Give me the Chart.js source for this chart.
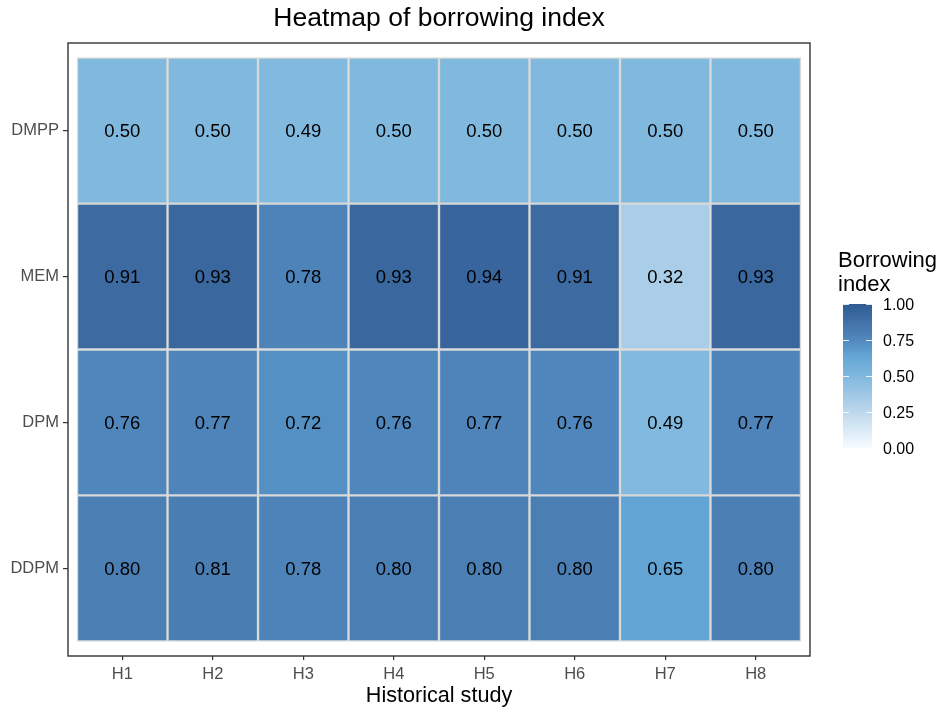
<!DOCTYPE html>
<html>
<head>
<meta charset="utf-8">
<script src="https://cdn.jsdelivr.net/npm/chart.js@4.4.1/dist/chart.umd.min.js"></script>
<style>
  html, body { margin: 0; padding: 0; background: #ffffff; }
  #c { display: block; }
</style>
</head>
<body>
<canvas id="c" width="944" height="711"></canvas>
<script>
// ---- data ----
const xCats = ['H1', 'H2', 'H3', 'H4', 'H5', 'H6', 'H7', 'H8'];
const yCats = ['DDPM', 'DPM', 'MEM', 'DMPP']; // bottom to top
const vDDPM = [0.80, 0.81, 0.78, 0.80, 0.80, 0.80, 0.65, 0.80];
const vDPM  = [0.76, 0.77, 0.72, 0.76, 0.77, 0.76, 0.49, 0.77];
const vMEM  = [0.91, 0.93, 0.78, 0.93, 0.94, 0.91, 0.32, 0.93];
const vDMPP = [0.50, 0.50, 0.49, 0.50, 0.50, 0.50, 0.50, 0.50];
const rowValues = [vDDPM, vDPM, vMEM, vDMPP];
const legendTicks = [0, 0.25, 0.5, 0.75, 1];
const legendTitle = ['Borrowing', 'index'];

const FONT = "'Liberation Sans', Arial, Helvetica, sans-serif";

// colour scale stops
const stops = [
  [0.00, [247, 251, 255]],
  [0.25, [188, 215, 236]],
  [0.50, [128, 184, 222]],
  [0.65, [98, 164, 211]],
  [0.75, [80, 136, 189]],
  [0.85, [70, 118, 171]],
  [1.00, [47, 90, 147]]
];
function colorFor(v) {
  v = Math.max(0, Math.min(1, v));
  for (let i = 1; i < stops.length; i++) {
    if (v <= stops[i][0]) {
      const [a, ca] = stops[i - 1], [b, cb] = stops[i];
      const t = (v - a) / (b - a);
      const c = ca.map((x, k) => Math.round(x + (cb[k] - x) * t));
      return `rgb(${c[0]},${c[1]},${c[2]})`;
    }
  }
  const c = stops[stops.length - 1][1];
  return `rgb(${c[0]},${c[1]},${c[2]})`;
}

const datasets = yCats.map((name, r) => ({
  label: name,
  data: xCats.map((c, i) => ({ x: i + 0.5, y: 1 })),
  values: rowValues[r],
  backgroundColor: rowValues[r].map(colorFor),
  borderColor: '#d9d9d9',
  borderWidth: 1.5,
  borderSkipped: false,
  barPercentage: 1,
  categoryPercentage: 1
}));

const panelPlugin = {
  id: 'panel',
  afterDatasetsDraw(chart) {
    const ctx = chart.ctx;
    // cell labels
    ctx.save();
    ctx.fillStyle = '#000';
    ctx.font = `18.5px ${FONT}`;
    ctx.textAlign = 'center';
    ctx.textBaseline = 'middle';
    chart.data.datasets.forEach((ds, di) => {
      const meta = chart.getDatasetMeta(di);
      meta.data.forEach((el, j) => {
        ctx.fillText(ds.values[j].toFixed(2), el.x, (el.y + el.base) / 2 + 1);
      });
    });
    ctx.restore();
    // panel border
    const a = chart.chartArea;
    ctx.save();
    ctx.strokeStyle = '#333333';
    ctx.lineWidth = 1.4;
    ctx.strokeRect(a.left, a.top, a.right - a.left, a.bottom - a.top);
    ctx.restore();
  },
  afterDraw(chart) {
    const ctx = chart.ctx;
    ctx.save();
    // legend title
    ctx.fillStyle = '#000';
    ctx.font = `22px ${FONT}`;
    ctx.textAlign = 'left';
    ctx.textBaseline = 'middle';
    ctx.fillText(legendTitle[0], 838, 261);
    ctx.fillText(legendTitle[1], 838, 285);
    // colour bar
    const bx = 843, bw = 29, top = 304, bottom = 448;
    const h = bottom - top;
    for (let p = 0; p < h; p++) {
      const v = 1 - (p + 0.5) / h;
      ctx.fillStyle = colorFor(v);
      ctx.fillRect(bx, top + p, bw, 1.02);
    }
    // ticks + labels
    ctx.font = `16px ${FONT}`;
    legendTicks.forEach(t => {
      const y = Math.round(bottom - t * h) + 0.5;
      ctx.strokeStyle = 'rgba(255,255,255,0.85)';
      ctx.lineWidth = 1;
      ctx.beginPath();
      ctx.moveTo(bx, y); ctx.lineTo(bx + 6, y);
      ctx.moveTo(bx + bw - 6, y); ctx.lineTo(bx + bw, y);
      ctx.stroke();
      ctx.fillStyle = '#000';
      ctx.fillText(t.toFixed(2), 883, y + 1);
    });
    ctx.restore();
  }
};

new Chart(document.getElementById('c'), {
  type: 'bar',
  data: { datasets },
  options: {
    responsive: false,
    animation: false,
    events: [],
    layout: { padding: { left: 0, right: 134, top: 0, bottom: 0 } },
    plugins: {
      legend: { display: false },
      tooltip: { enabled: false },
      title: {
        display: true,
        text: 'Heatmap of borrowing index',
        fullSize: false,
        color: '#000',
        font: { family: FONT, size: 26.5, weight: 'normal' },
        padding: { top: 3, bottom: 8.2 }
      }
    },
    scales: {
      x: {
        type: 'linear',
        min: -0.1,
        max: 8.1,
        stacked: true,
        offset: false,
        position: 'bottom',
        afterBuildTicks: s => { s.ticks = xCats.map((c, i) => ({ value: i + 0.5 })); },
        afterFit: s => { s.height = 55; },
        ticks: {
          callback: (v, i) => xCats[i],
          color: '#4d4d4d',
          font: { family: FONT, size: 16.5 },
          padding: 5,
          maxRotation: 0,
          autoSkip: false
        },
        grid: { offset: false, drawOnChartArea: false, drawTicks: true, tickLength: 4, color: '#333333', lineWidth: 1.2 },
        border: { display: false },
        title: {
          display: true,
          text: 'Historical study',
          color: '#000',
          font: { family: FONT, size: 21.6 },
          padding: { top: 0, bottom: 2 }
        }
      },
      y: {
        type: 'linear',
        min: -0.1,
        max: 4.1,
        stacked: true,
        afterBuildTicks: s => { s.ticks = yCats.map((c, i) => ({ value: i + 0.5 })); },
        afterFit: s => { s.width = 68; },
        ticks: {
          callback: (v, i) => yCats[i],
          color: '#4d4d4d',
          font: { family: FONT, size: 16.5 },
          padding: 4,
          autoSkip: false
        },
        grid: { drawOnChartArea: false, drawTicks: true, tickLength: 5, color: '#333333', lineWidth: 1.2 },
        border: { display: false }
      }
    }
  },
  plugins: [panelPlugin]
});
</script>
</body>
</html>
